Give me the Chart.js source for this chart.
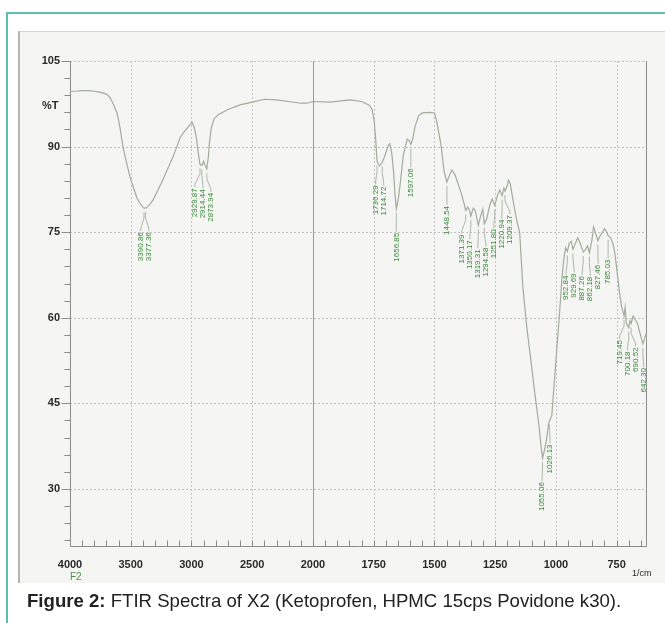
<!DOCTYPE html>
<html><head><meta charset="utf-8">
<script src="https://cdn.jsdelivr.net/npm/chart.js@4.4.0/dist/chart.umd.min.js"></script>
<style>
html,body{margin:0;padding:0;background:#fff;width:665px;height:623px;overflow:hidden;position:relative;font-family:"Liberation Sans",Arial,sans-serif;}
#frameTop{position:absolute;left:6px;top:12px;width:659px;height:0;border-top:2px solid #5cbfb2;}
#frameLeft{position:absolute;left:6px;top:12px;width:0;height:611px;border-left:2px solid #5cbfb2;}
#scan{position:absolute;left:18px;top:31px;width:647px;height:551px;background:#f5f5f4;border-left:2px solid #b5b5b5;border-top:1px solid #d4d4d4;}
#c{position:absolute;left:0;top:0;}
.t{position:absolute;white-space:nowrap;line-height:1;}
#pctT{left:42px;top:100px;font-size:11px;font-weight:bold;color:#2a2a2a;}
#f2{left:70px;top:572px;font-size:10px;color:#4f8f4f;}
#unit{left:632px;top:569px;font-size:9px;color:#2a2a2a;}
#caption{left:27px;top:592px;font-size:18.6px;color:#222;}
</style>
</head><body>
<div id="frameTop"></div><div id="frameLeft"></div>
<div id="scan"></div>
<canvas id="c" width="665" height="623"></canvas>
<div class="t" id="pctT">%T</div>
<div class="t" id="f2">F2</div>
<div class="t" id="unit">1/cm</div>
<div class="t" id="caption"><b>Figure 2:</b> FTIR Spectra of X2 (Ketoprofen, HPMC 15cps Povidone k30).</div>
<script>
// ---- data (wavenumber in 1/cm, transmittance in %T) ----
const wavenumbers = [4000,3950,3900,3850,3800,3750,3700,3670,3640,3613,3590,3564,3535,3506,3475,3449,3420,3400,3390.86,3377.36,3350,3317,3280,3235,3190,3152,3120,3095,3060,3037,3010,2996,2978,2960,2945,2929.87,2914.44,2900,2885,2873.94,2862,2852,2838,2815,2780,2700,2600,2500,2400,2300,2200,2100,2050,2000,
1930,1848,1800,1770,1757,1748,1742,1736.29,1726,1714.72,1702,1690,1684,1676,1668,1662,1656.85,1648,1640,1628,1612,1603,1597.06,1590,1580,1565,1550,1520,1500,1490,1473,1460,1448.54,1438,1428,1415,1405,1390,1378,1371.39,1363,1356,1350.17,1340,1332,1319.31,1310,1301,1294.58,1285,1272,1262,1251.80,1240,1231,1220.94,1214,1209.37,1200,1195,1188,1180,1172,1163,1149,1136,1120,1100,1087,1070,1060,1055.06,1046,1038,1030,1026.13,1017,1005,995,984,975,968,960,952.84,945,937,929.69,920,910,900,887.26,878,870,862.18,852,845,838,832,827.46,820,808,800,792,785.03,775,765,758,748,738,730,725,719.45,715,710,700.18,695,690.52,682,675,664,655,647,642.30,635,630,625];
const transmittance = [99.7,99.7,99.8,99.8,99.7,99.5,99.2,98.6,97.3,95.9,93.5,90.0,87.2,84.7,82.6,81.0,79.9,79.4,79.2,79.2,79.7,80.6,82.2,84.2,86.4,88.2,90.0,91.5,92.6,93.2,93.9,94.3,93.4,91.6,89.0,86.9,86.7,87.4,86.6,86.1,88.0,90.6,93.2,94.8,95.6,96.5,97.3,97.8,98.3,98.2,97.9,97.6,97.6,97.9,
97.8,98.2,97.9,97.3,96.6,94.5,91.5,87.4,86.6,87.2,88.6,90.2,90.5,89.0,85.5,81.5,79.1,81.0,83.8,88.5,91.3,91.0,90.4,91.2,93.5,95.4,95.9,96.0,95.9,94.3,90.3,85.6,83.8,85.0,85.9,85.0,83.8,81.9,80.0,78.8,79.4,78.9,77.8,79.2,78.8,76.2,77.8,79.0,76.5,77.3,79.8,80.8,79.7,81.5,82.4,81.4,82.7,82.2,83.2,84.1,83.5,81.5,79.5,77.5,74.9,65.4,58.4,51.5,46.8,41.2,37.0,35.4,37.0,38.8,41.4,42.0,42.8,49.6,55.2,61.4,67.0,70.1,72.3,71.6,73.1,73.4,72.0,73.0,74.0,73.0,71.5,72.0,72.6,71.4,73.5,75.9,75.0,74.2,73.5,74.2,75.0,75.6,75.1,74.4,74.0,73.0,71.5,68.0,64.4,62.0,61.3,60.3,61.8,59.0,58.3,59.5,59.0,60.3,59.8,59.0,57.5,56.2,55.4,56.3,57.0,56.2];
const peakLabels = ['3390.86','3377.36','2929.87','2914.44','2873.94','1736.29','1714.72','1656.85','1597.06','1448.54','1371.39','1350.17','1319.31','1294.58','1251.80','1220.94','1209.37','1055.06','1026.13','952.84','929.69','887.26','862.18','827.46','785.03','719.45','700.18','690.52','642.30'];
const xTickLabels = [4000,3500,3000,2500,2000,1750,1500,1250,1000,750];
const yTickLabels = [105,90,75,60,45,30];
const xRange = [625, 4000];
const yRange = [20, 105];

// ---- FTIR axis: 500 per division above 2000, 250 per division below ----
function toU(v){ return v >= 2000 ? (4000 - v) / 500 : 4 + (2000 - v) / 250; }
function fromU(u){ return u <= 4 ? 4000 - u * 500 : 2000 - (u - 4) * 250; }
class FtirScale extends Chart.LinearScale {
  buildTicks(){
    const t = [];
    for (let v = this.max; v > 2000; v -= 100) t.push({value: v});
    for (let v = 2000; v >= this.min; v -= 50) t.push({value: v});
    return t;
  }
  getPixelForValue(v){
    const u0 = toU(this.max), u1 = toU(this.min);
    return this.getPixelForDecimal((toU(v) - u0) / (u1 - u0));
  }
  getValueForPixel(p){
    const u0 = toU(this.max), u1 = toU(this.min);
    return fromU(u0 + this.getDecimalForPixel(p) * (u1 - u0));
  }
}
FtirScale.id = 'ftir';
FtirScale.defaults = Chart.LinearScale.defaults;
Chart.register(FtirScale);

function valueAt(w){
  for (let i = 0; i < wavenumbers.length - 1; i++){
    const a = wavenumbers[i], b = wavenumbers[i+1];
    if (w <= a && w >= b){ const f = (a - w) / (a - b); return transmittance[i] + f * (transmittance[i+1] - transmittance[i]); }
  }
  return transmittance[transmittance.length - 1];
}

function line(ctx, x1, y1, x2, y2){ ctx.beginPath(); ctx.moveTo(x1, y1); ctx.lineTo(x2, y2); ctx.stroke(); }

const framePlugin = {
  id: 'frame',
  beforeDatasetsDraw(chart){
    const {ctx, chartArea: a, scales: {x, y}} = chart;
    ctx.save();
    ctx.lineWidth = 1;
    ctx.strokeStyle = '#c2c2c2';
    ctx.setLineDash([2, 2]);
    yTickLabels.forEach(v => { const p = Math.round(y.getPixelForValue(v)) + 0.5; line(ctx, a.left, p, a.right, p); });
    xTickLabels.forEach(v => { if (v === 4000 || v === 2000) return; const p = Math.round(x.getPixelForValue(v)) + 0.5; line(ctx, p, a.top, p, a.bottom); });
    ctx.setLineDash([]);
    ctx.strokeStyle = '#8c8c8c';
    const L = Math.round(a.left) + 0.5, R = Math.round(a.right) - 0.5, B = Math.round(a.bottom) + 0.5;
    line(ctx, L, a.top, L, B);
    line(ctx, L, B, R, B);
    line(ctx, R, a.top, R, B);
    const p2000 = Math.round(x.getPixelForValue(2000)) + 0.5;
    ctx.strokeStyle = '#9a9a9a';
    line(ctx, p2000, a.top, p2000, a.bottom);
    ctx.strokeStyle = '#8c8c8c';
    x.ticks.forEach(t => { const p = Math.round(x.getPixelForValue(t.value)) + 0.5; line(ctx, p, B - 6, p, B); });
    y.ticks.forEach(t => { const p = Math.round(y.getPixelForValue(t.value)) + 0.5; const len = yTickLabels.includes(t.value) ? 9 : 6; line(ctx, L - len, p, L, p); });
    ctx.restore();
  },
  afterDatasetsDraw(chart){
    const {ctx, scales: {x, y}} = chart;
    const gap = 8;
    const items = peakLabels.map(s => { const w = parseFloat(s); const px = x.getPixelForValue(w); const py = y.getPixelForValue(valueAt(w)); return {s, px, py}; });
    items.sort((p, q) => p.px - q.px);
    // cluster labels to avoid overlap
    let clusters = items.map(it => ({members: [it]}));
    const place = c => { const m = c.members.reduce((s, it) => s + it.px, 0) / c.members.length; const w = (c.members.length - 1) * gap; c.left = m - w / 2; c.right = m + w / 2; };
    clusters.forEach(place);
    let merged = true;
    while (merged){
      merged = false;
      for (let i = 0; i < clusters.length - 1; i++){
        if (clusters[i].right + gap > clusters[i+1].left + 0.01){
          clusters[i].members = clusters[i].members.concat(clusters[i+1].members);
          clusters.splice(i + 1, 1); place(clusters[i]); merged = true; break;
        }
      }
    }
    ctx.save();
    ctx.font = '8px "Liberation Sans", Arial, sans-serif';
    ctx.fillStyle = '#3a873a';
    ctx.strokeStyle = '#9aa894';
    ctx.lineWidth = 0.8;
    clusters.forEach(c => c.members.forEach((it, k) => {
      const lx = c.left + k * gap;
      const top = it.py + 24;
      ctx.beginPath();
      ctx.moveTo(it.px, it.py + 4);
      ctx.lineTo(it.px, it.py + 10);
      ctx.lineTo(lx, top - 4);
      ctx.lineTo(lx, top - 1);
      ctx.stroke();
      ctx.save();
      ctx.translate(lx, top);
      ctx.rotate(-Math.PI / 2);
      ctx.textAlign = 'right';
      ctx.textBaseline = 'middle';
      ctx.fillText(it.s, 0, 0);
      ctx.restore();
    }));
    ctx.restore();
  }
};

const tickFont = {family: '"Liberation Sans", Arial, sans-serif', size: 11, weight: 'bold'};
new Chart(document.getElementById('c').getContext('2d'), {
  type: 'line',
  data: {datasets: [{
    data: wavenumbers.map((w, i) => ({x: w, y: transmittance[i]})),
    borderColor: '#a2ac9b', borderWidth: 1.2, pointRadius: 0, tension: 0, fill: false
  }]},
  options: {
    responsive: false, animation: false, devicePixelRatio: 1,
    layout: {padding: {left: 0, top: 61, right: 18, bottom: 47}},
    plugins: {legend: {display: false}, tooltip: {enabled: false}},
    scales: {
      x: {
        type: 'ftir', min: xRange[0], max: xRange[1],
        afterFit: s => { s.height = 30; },
        grid: {display: false, drawTicks: false}, border: {display: false},
        ticks: {autoSkip: false, maxRotation: 0, minRotation: 0, padding: 12, color: '#2a2a2a', font: tickFont,
          callback: v => xTickLabels.includes(v) ? String(v) : ''}
      },
      y: {
        type: 'linear', min: yRange[0], max: yRange[1],
        afterBuildTicks: s => { const t = []; for (let v = yRange[1]; v > yRange[0]; v -= 3) t.push({value: v}); s.ticks = t; },
        afterFit: s => { s.width = 70; },
        grid: {display: false, drawTicks: false}, border: {display: false},
        ticks: {autoSkip: false, padding: 10, color: '#2a2a2a', font: tickFont,
          callback: v => yTickLabels.includes(v) ? String(v) : ''}
      }
    }
  },
  plugins: [framePlugin]
});
</script>
</body></html>
